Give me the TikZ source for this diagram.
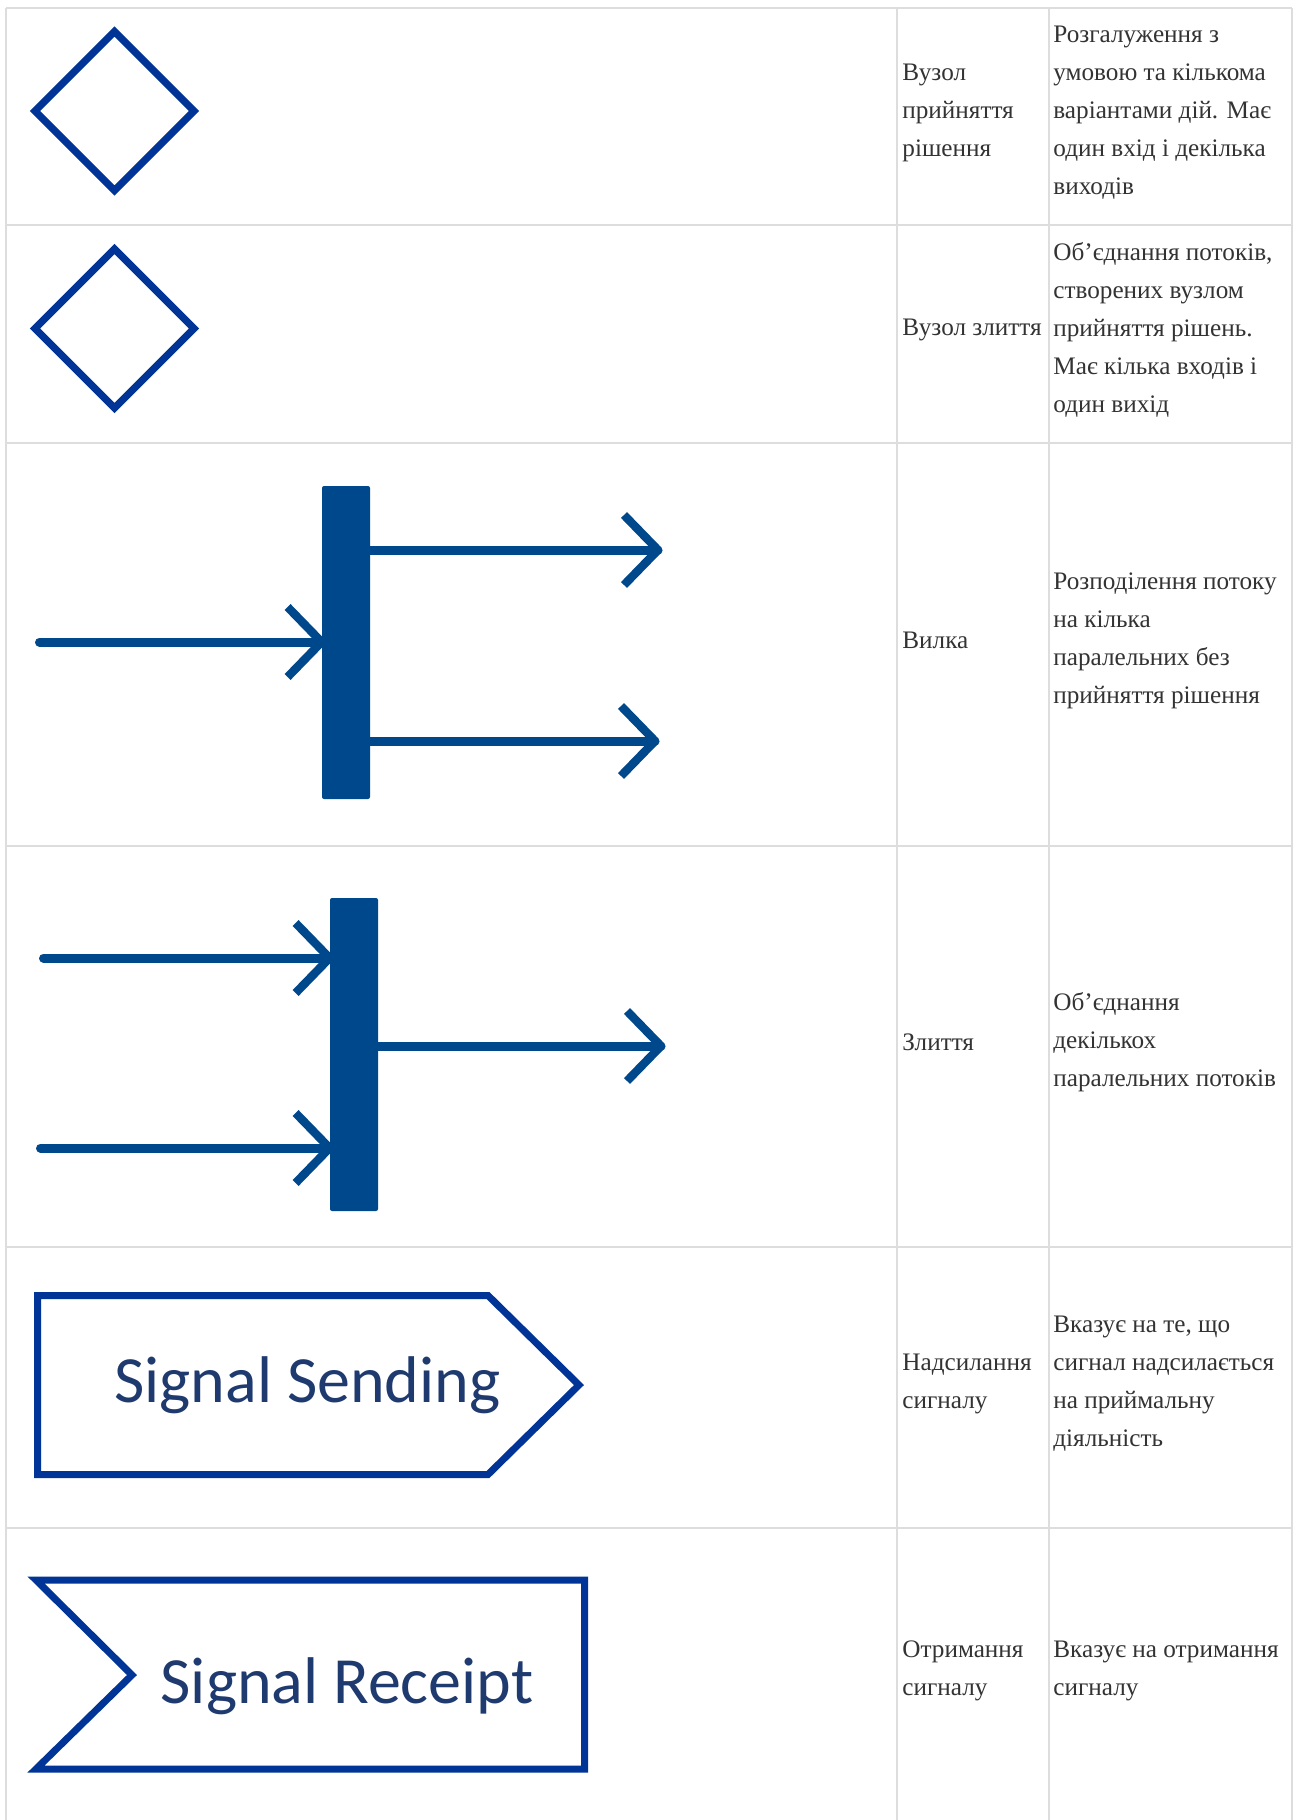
\documentclass[tikz,border=0pt]{standalone}
\usepackage{fontspec}
\setmainfont{Liberation Serif}
\newfontfamily\signalfont{Carlito}
\usetikzlibrary{shapes.geometric}

\definecolor{gridgray}{RGB}{221,221,221}
\definecolor{cellink}{RGB}{51,51,51}
\definecolor{umlblue}{RGB}{0,52,150}
\definecolor{barblue}{RGB}{0,72,140}
\definecolor{signalink}{RGB}{30,58,110}

% open arrowhead drawn back from a named tip coordinate
\newcommand{\chevron}[1]{%
  \draw[flowhead] ([shift={(-34,-35)}]#1) -- (#1) -- ([shift={(-34,35)}]#1);}

\begin{document}
\begin{tikzpicture}[x=0.5pt,y=-0.5pt,
  grid/.style={draw=gridgray,line width=0.9pt},
  celltext/.style={anchor=west,inner sep=0pt,align=left,text=cellink,
    font=\fontsize{12.6}{19}\selectfont},
  decision/.style={diamond,aspect=1,draw=umlblue,line width=3.6pt,
    inner sep=0pt,minimum width=81pt,minimum height=81pt},
  syncbar/.style={rectangle,fill=barblue,inner sep=0pt,rounded corners=1pt,
    minimum width=24pt,minimum height=156.5pt},
  flow/.style={draw=barblue,line width=4.5pt,line cap=round},
  flowhead/.style={draw=barblue,line width=4.2pt,line cap=butt,line join=round},
  signalshape/.style={draw=umlblue,line width=3.5pt,line join=miter},
  signaltext/.style={inner sep=0pt,text=signalink,
    font=\signalfont\fontsize{33}{40}\selectfont}]

\useasboundingbox (0,0) rectangle (1293,1820);
\fill[white] (0,0) rectangle (1293,1820);

% table rules
\foreach \y in {8,225,443,846,1247,1528}
  \draw[grid] (6,\y) -- (1292,\y);
\foreach \x in {6,897,1049,1292}
  \draw[grid] (\x,8) -- (\x,1820);

% decision and merge nodes
\node[decision] (decision) at (114.5,111) {};
\node[decision] (merge) at (114.5,328.5) {};

% fork
\node[syncbar] (fork) at (346,642.5) {};
\coordinate (forkin) at (39.5,642);
\coordinate (forkout1) at (658,550);
\coordinate (forkout2) at (655,741);
\draw[flow] (forkin) -- (forkin -| fork.west) coordinate (forkintip);
\chevron{forkintip}
\draw[flow] (fork.east |- forkout1) -- (forkout1);
\chevron{forkout1}
\draw[flow] (fork.east |- forkout2) -- (forkout2);
\chevron{forkout2}

% join
\node[syncbar] (join) at (354,1054.5) {};
\coordinate (joinin1) at (43.5,958);
\coordinate (joinin2) at (40.5,1148);
\coordinate (joinout) at (661,1046);
\draw[flow] (joinin1) -- (joinin1 -| join.west) coordinate (joinintip1);
\chevron{joinintip1}
\draw[flow] (joinin2) -- (joinin2 -| join.west) coordinate (joinintip2);
\chevron{joinintip2}
\draw[flow] (join.east |- joinout) -- (joinout);
\chevron{joinout}

% signal sending
\draw[signalshape] (37.5,1295.5) -- (488,1295.5) -- (579,1385)
  -- (488,1474.5) -- (37.5,1474.5) -- cycle;
\node[signaltext,anchor=base] (sendlabel) at (307.5,1402) {Signal Sending};

% signal receipt
\draw[signalshape] (36,1580) -- (584.5,1580) -- (584.5,1769)
  -- (36,1769) -- (132,1675) -- cycle;
\node[signaltext,anchor=base] (recvlabel) at (347,1703) {Signal Receipt};

% names and descriptions
\node[celltext] (n1) at (902,112.5) {Вузол\\прийняття\\рішення};
\node[celltext] (d1) at (1053,112.5) {Розгалуження з\\умовою та кількома\\варіантами дій. Має\\один вхід і декілька\\виходів};
\node[celltext] (n2) at (902,330) {Вузол злиття};
\node[celltext] (d2) at (1053,330) {Об’єднання потоків,\\створених вузлом\\прийняття рішень.\\Має кілька входів і\\один вихід};
\node[celltext] (n3) at (902,640.5) {Вилка};
\node[celltext] (d3) at (1053,640.5) {Розподілення потоку\\на кілька\\паралельних без\\прийняття рішення};
\node[celltext] (n4) at (902,1042.5) {Злиття};
\node[celltext] (d4) at (1053,1042.5) {Об’єднання\\декількох\\паралельних потоків};
\node[celltext] (n5) at (902,1383.5) {Надсилання\\сигналу};
\node[celltext] (d5) at (1053,1383.5) {Вказує на те, що\\сигнал надсилається\\на приймальну\\діяльність};
\node[celltext] (n6) at (902,1671) {Отримання\\сигналу};
\node[celltext] (d6) at (1053,1671) {Вказує на отримання\\сигналу};
\end{tikzpicture}
\end{document}
